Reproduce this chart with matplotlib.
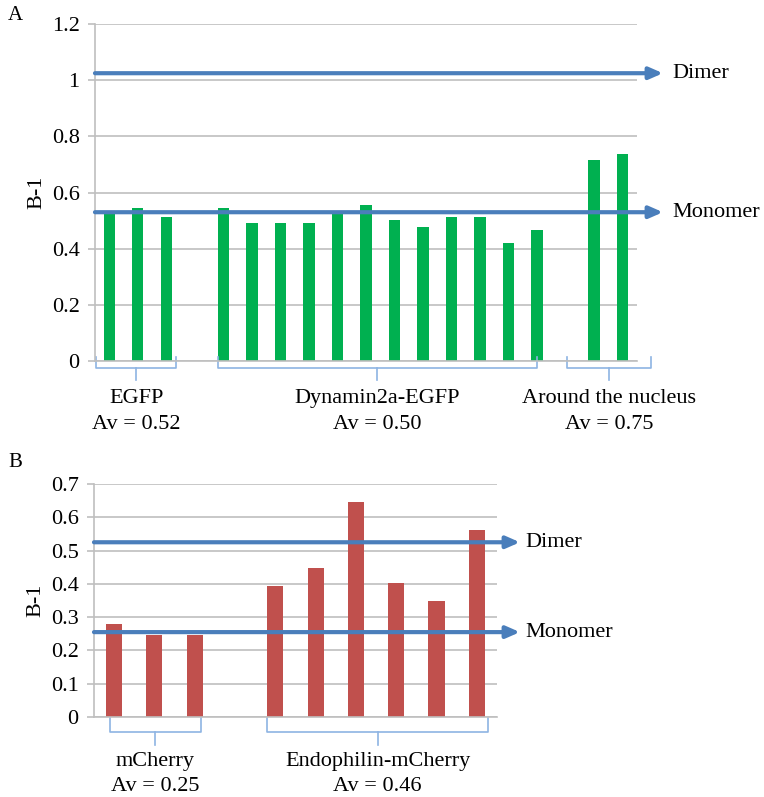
import matplotlib
matplotlib.use("Agg")
import numpy as np
from matplotlib import pyplot as plt

plt.rcParams['font.family'] = ['Liberation Serif', 'DejaVu Serif']

# panel A: B-1 for EGFP constructs (None = empty slot between groups)
a_vals = [0.527, 0.545, 0.513, None,
          0.545, 0.49, 0.49, 0.49, 0.527, 0.556, 0.502, 0.478, 0.512, 0.512, 0.42, 0.467, None,
          0.716, 0.737]
a_groups = ['EGFP', 'Dynamin2a-EGFP', 'Around the nucleus']
a_avs = ['Av = 0.52', 'Av = 0.50', 'Av = 0.75']
a_braces = [(-0.45, 2.35), (3.8, 15.0), (16.05, 19.0)]
a_refs = {'Dimer': 1.025, 'Monomer': 0.53}

# panel B: B-1 for mCherry constructs
b_vals = [0.279, 0.246, 0.246, None,
          0.393, 0.447, 0.646, 0.402, 0.348, 0.561]
b_groups = ['mCherry', 'Endophilin-mCherry']
b_avs = ['Av = 0.25', 'Av = 0.46']
b_braces = [(-0.1, 2.15), (3.8, 9.28)]
b_refs = {'Dimer': 0.525, 'Monomer': 0.255}

fig = plt.figure(figsize=(7.64, 7.97), dpi=100)
axA = fig.add_axes([0.1243, 0.547, 0.7094, 0.4228])
axB = fig.add_axes([0.123, 0.1004, 0.5275, 0.2923])

grid_c = '#bfbfbf'
arrow_c = '#4a7ebb'
brace_c = '#8eb4e3'
fs = 16


def style(ax, ymax, step, n):
    ax.set_xlim(-0.5, n - 0.5)
    ax.set_ylim(0, ymax)
    ax.set_yticks(np.round(np.arange(0, ymax + step / 2, step), 2))
    ax.yaxis.set_major_formatter(plt.FuncFormatter(lambda v, p: '%g' % v))
    ax.set_xticks([])
    ax.grid(axis='y', color=grid_c, linewidth=1.2)
    ax.set_axisbelow(True)
    for s in ['top', 'right']:
        ax.spines[s].set_visible(False)
    for s in ['left', 'bottom']:
        ax.spines[s].set_color(grid_c)
        ax.spines[s].set_linewidth(1.2)
    ax.tick_params(axis='y', length=5, width=1.2, color=grid_c, labelsize=fs, pad=6)
    ax.set_ylabel('B-1', fontsize=fs)


def brace(ax, x0, x1, y_top, y_mid, y_tip):
    tr = ax.get_xaxis_transform()
    xm = (x0 + x1) / 2
    ax.plot([x0, x0, x1, x1], [y_top, y_mid, y_mid, y_top], color=brace_c,
            lw=1.2, transform=tr, clip_on=False)
    ax.plot([xm, xm], [y_mid, y_tip], color=brace_c, lw=1.2, transform=tr, clip_on=False)


def draw(ax, vals, color, refs, arrow_end, label_x, groups, avs, braces,
         ymax, step, by, ty):
    n = len(vals)
    style(ax, ymax, step, n)
    xs = [i for i, v in enumerate(vals) if v is not None]
    hs = [v for v in vals if v is not None]
    ax.bar(xs, hs, width=0.4, color=color, zorder=2)
    for name, y in refs.items():
        ax.annotate('', xy=(arrow_end, y), xytext=(0, y),
                    xycoords=('axes fraction', 'data'),
                    textcoords=('axes fraction', 'data'),
                    arrowprops=dict(arrowstyle='-|>,head_length=0.8,head_width=0.35',
                                    color=arrow_c, lw=3, shrinkA=0, shrinkB=0),
                    zorder=3, annotation_clip=False)
        ax.text(label_x, y, name, transform=ax.get_yaxis_transform(),
                fontsize=fs, va='center', ha='left')
    tr = ax.get_xaxis_transform()
    for g, av, (x0, x1) in zip(groups, avs, braces):
        brace(ax, x0, x1, *by)
        xm = (x0 + x1) / 2
        ax.text(xm, ty[0], g, transform=tr, ha='center', va='center', fontsize=fs)
        ax.text(xm, ty[1], av, transform=tr, ha='center', va='center', fontsize=fs)


draw(axA, a_vals, '#00b050', a_refs, 1.048, 1.065, a_groups, a_avs, a_braces,
     1.2, 0.2, (0.012, -0.021, -0.056), (-0.11, -0.187))
draw(axB, b_vals, '#c0504d', b_refs, 1.057, 1.07, b_groups, b_avs, b_braces,
     0.7, 0.1, (-0.004, -0.064, -0.12), (-0.193, -0.30))

fig.text(15 / 764, 1 - 15 / 797, 'A', fontsize=fs - 1, ha='center', va='center')
fig.text(15 / 764, 1 - 463 / 797, 'B', fontsize=fs - 1, ha='center', va='center')

fig.savefig('out.png', dpi=100)
